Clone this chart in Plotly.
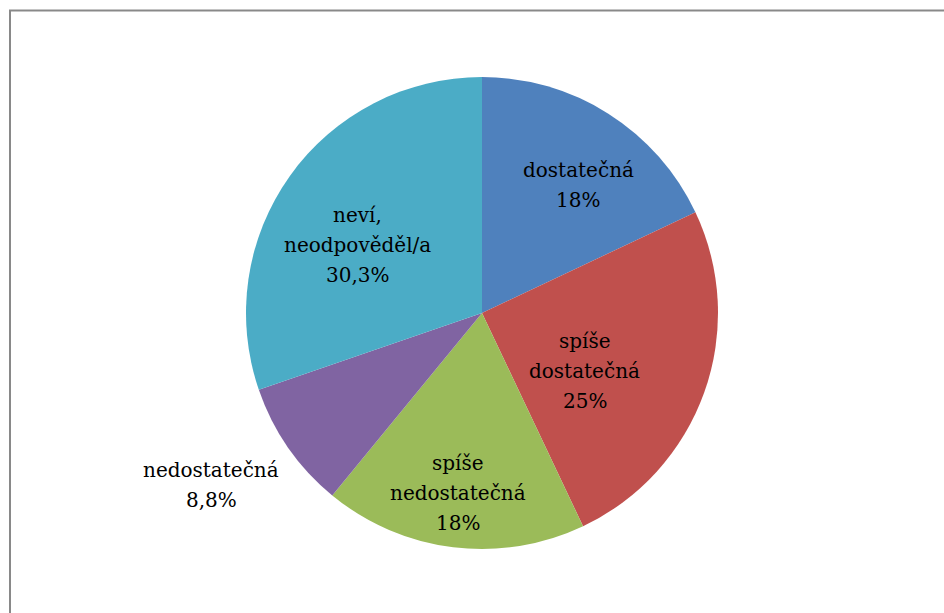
import math
import plotly.graph_objects as go

# Category labels (line-broken as displayed) and their shares in percent
categories = ["dostatečná", "spíše dostatečná", "spíše nedostatečná", "nedostatečná", "neví, neodpověděl/a"]
label_lines = [["dostatečná"], ["spíše", "dostatečná"], ["spíše", "nedostatečná"],
               ["nedostatečná"], ["neví,", "neodpověděl/a"]]
values = [18, 25, 18, 8.8, 30.3]
value_text = ["18%", "25%", "18%", "8,8%", "30,3%"]
colors = ["#4F81BD", "#C0504D", "#9BBB59", "#8064A2", "#4BACC6"]

# Label placement: radial distance as a fraction of the radius, plus an angular nudge (deg)
label_radius = [0.68, 0.50, 0.77, 1.36, 0.60]
label_nudge = [4.5, 10.0, 0.5, 2.3, -7.0]

W, H = 944, 613
cx, cy, R = 482, 313, 236  # pie centre and radius in pixels
SERIF = "DejaVu Serif"

fig = go.Figure(go.Pie(
    labels=categories,
    values=values,
    sort=False,
    direction="clockwise",
    rotation=0,
    marker=dict(colors=colors, line=dict(width=0)),
    textinfo="none",
    hoverinfo="label+percent",
    showlegend=False,
    domain=dict(x=[(cx - R) / W, (cx + R) / W], y=[(H - cy - R) / H, (H - cy + R) / H]),
))

# Place each label at its slice's mid-angle
total = sum(values)
cum = 0.0
line_h = 30
annotations = []
for i, v in enumerate(values):
    mid = (cum + v / 2) / total * 360 + label_nudge[i]
    cum += v
    rad = math.radians(mid)
    dist = label_radius[i] * R
    px = cx + dist * math.sin(rad)
    py = cy - dist * math.cos(rad)
    lines = label_lines[i] + [value_text[i]]
    n = len(lines)
    for j, txt in enumerate(lines):
        ly = py + (j - (n - 1) / 2) * line_h
        annotations.append(dict(
            x=px / W, y=(H - ly) / H, xref="paper", yref="paper",
            text=txt, showarrow=False, xanchor="center", yanchor="middle",
            font=dict(family=SERIF, size=20, color="#000000"),
        ))

fig.update_layout(
    width=W, height=H,
    margin=dict(l=0, r=0, t=0, b=0),
    paper_bgcolor="#FFFFFF",
    plot_bgcolor="#FFFFFF",
    font=dict(family=SERIF),
    annotations=annotations,
    shapes=[dict(type="rect", xref="paper", yref="paper",
                 x0=10 / W, x1=1.05, y0=-0.05, y1=(H - 10.5) / H,
                 line=dict(color="#898989", width=2), fillcolor="rgba(0,0,0,0)")],
)

fig.write_html("out.html")
